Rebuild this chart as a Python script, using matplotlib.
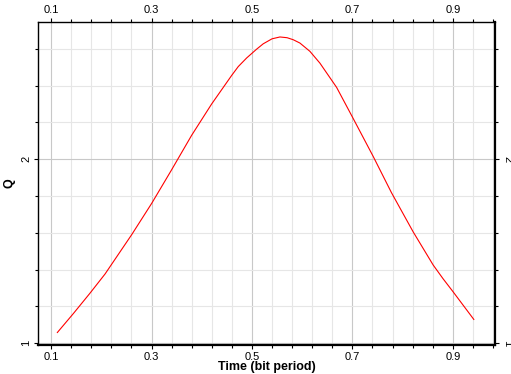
import numpy as np
import matplotlib.pyplot as plt
from matplotlib.ticker import MultipleLocator, FixedLocator

plt.rcParams['font.family'] = ['Liberation Sans', 'DejaVu Sans']

# Q curve
t = [0.1125, 0.1444, 0.1776, 0.2075, 0.2606, 0.3004, 0.3400, 0.3800, 0.4198,
     0.4596, 0.4727, 0.4895, 0.5090, 0.5225, 0.5400, 0.5557, 0.5700, 0.5822,
     0.5955, 0.6154, 0.6353, 0.6686, 0.7016, 0.7414, 0.7778, 0.8210, 0.8608,
     0.8806, 0.9006, 0.9418]
q = [1.058, 1.161, 1.272, 1.376, 1.590, 1.760, 1.942, 2.130, 2.300,
     2.455, 2.503, 2.550, 2.597, 2.627, 2.654, 2.664, 2.660, 2.649,
     2.631, 2.586, 2.522, 2.390, 2.221, 2.015, 1.818, 1.605, 1.425,
     1.350, 1.279, 1.129]

x_major = [0.1, 0.3, 0.5, 0.7, 0.9]
y_major = [1, 2]

fig = plt.figure(figsize=(5.11, 3.74), dpi=100)
ax = fig.add_axes([0.0744, 0.0775, 0.8943, 0.8635])

ax.plot(t, q, color='red', linewidth=0.8)

ax.set_xlim(0.074, 0.984)
ax.set_ylim(0.99, 2.745)

ax.xaxis.set_major_locator(FixedLocator(x_major))
ax.xaxis.set_minor_locator(FixedLocator(np.arange(0.1, 0.99, 0.04)))
ax.yaxis.set_major_locator(FixedLocator(y_major))
ax.yaxis.set_minor_locator(MultipleLocator(0.2))

ax.grid(which='major', color='#c8c8c8', linewidth=0.8)
ax.grid(which='minor', color='#e6e6e6', linewidth=0.8)
ax.set_axisbelow(True)

ax.tick_params(which='both', top=True, right=True, labeltop=True, labelright=True,
               labelsize=8, length=3, width=0.8, pad=2)
ax.tick_params(which='minor', length=2)
for tk in ax.yaxis.get_major_ticks():
    tk.label1.set_rotation(90)
    tk.label1.set_va('center')
    tk.label2.set_rotation(-90)
    tk.label2.set_va('center')

for s in ax.spines.values():
    s.set_linewidth(1.0)
ax.spines['bottom'].set_linewidth(1.6)
ax.spines['right'].set_linewidth(1.6)

ax.set_xlabel('Time (bit period)', fontsize=9, fontweight='bold', labelpad=-1)
ax.set_ylabel('Q', fontsize=9, fontweight='bold', labelpad=4)

fig.savefig('out.png', dpi=100)
